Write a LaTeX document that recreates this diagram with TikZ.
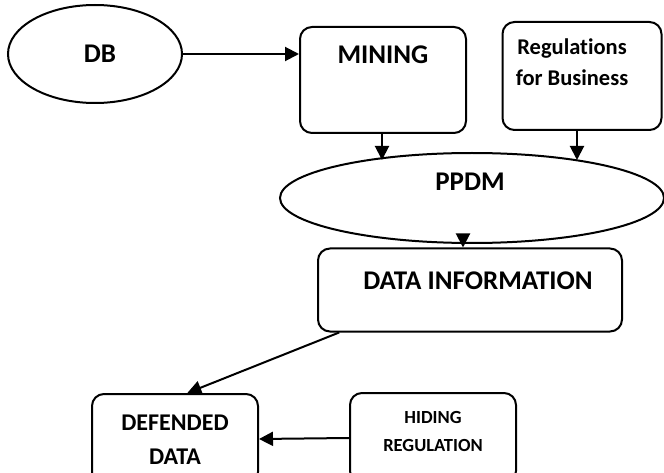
\documentclass[tikz,border=0pt]{standalone}
\usepackage{fontspec}
\setmainfont{Carlito}[Ligatures=NoCommon]
\usetikzlibrary{arrows.meta,shapes.geometric}
\tikzset{
	box/.style={draw,rounded corners=12pt,line width=2pt,inner sep=0pt},
	oval/.style={draw,ellipse,line width=2pt,inner sep=0pt},
	arr/.style={-{Triangle[length=14pt,width=14pt]},line width=2pt},
	bigtxt/.style={font=\fontsize{27}{34}\selectfont\bfseries,align=center},
	deftxt/.style={font=\fontsize{24}{34}\selectfont\bfseries,align=center},
	midtxt/.style={font=\fontsize{22.5}{31}\selectfont\bfseries,align=center},
	smalltxt/.style={font=\fontsize{18.5}{28}\selectfont\bfseries,align=center}
}

\begin{document}
\begin{tikzpicture}[x=1pt,y=-1pt]
		\clip (0,0) rectangle (664,473);
		\begin{scope}
			\node[oval,minimum width=174pt,minimum height=98pt] (db) at (95,54) {};
			\node[box,minimum width=166pt,minimum height=106pt] (mining) at (383,80) {};
			\node[box,minimum width=159pt,minimum height=108pt] (reg) at (582,76) {};
			\node[oval,minimum width=384pt,minimum height=90pt] (ppdm) at (472,198) {};
			\node[box,minimum width=304pt,minimum height=83pt] (data) at (470,290) {};
			\node[box,minimum width=166pt,minimum height=90pt] (defended) at (175,439) {};
			\node[box,minimum width=166pt,minimum height=90pt] (hiding) at (433,438) {};

			\node[bigtxt] (dbtxt) at (100,54) {DB};
			\node[bigtxt] (miningtxt) at (383,55) {MINING};
			\node[midtxt] (regtxt) at (572,62) {Regulations\\for Business};
			\node[bigtxt] (ppdmtxt) at (470,182) {PPDM};
			\node[bigtxt] (datatxt) at (478,281) {DATA INFORMATION};
			\node[deftxt] (defendedtxt) at (175,440) {DEFENDED\\DATA};
			\node[smalltxt] (hidingtxt) at (433,431) {HIDING\\REGULATION};

			\coordinate (m2p) at (382,160);
			\coordinate (r2p) at (577,160);

			\draw[arr] (db.east) to (db.east -| mining.west);
			\draw[arr] (mining.south -| m2p) to (m2p);
			\draw[arr] (reg.south -| r2p) to (r2p);
			\draw[arr] (ppdm.south -| 463,0) to (data.north -| 463,0);
			\draw[arr] (data.198.6) to (defended.75);
			\draw[arr] (hiding.west) to (defended.east);
		\end{scope}
	\end{tikzpicture}
\end{document}
